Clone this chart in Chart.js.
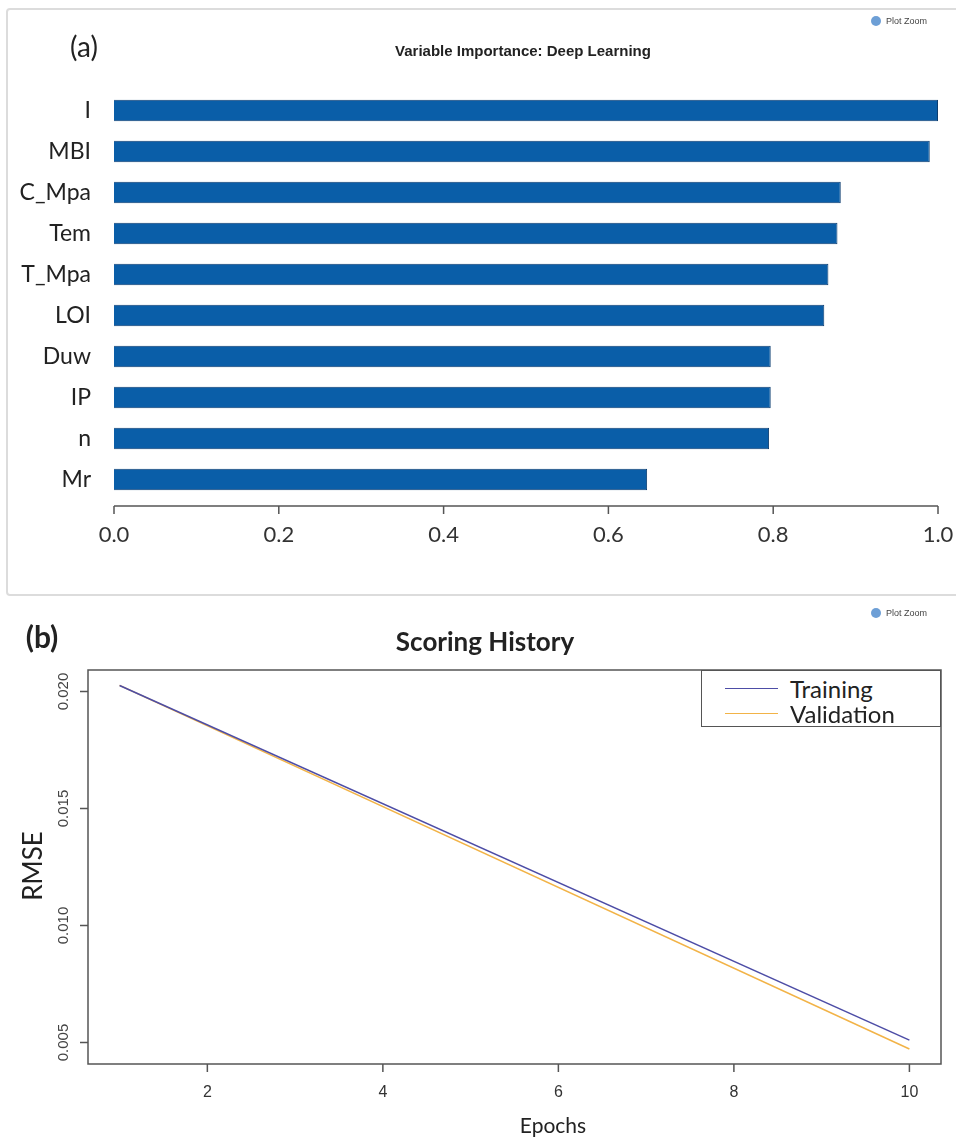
<!DOCTYPE html>
<html><head><meta charset="utf-8">
<script src="https://cdn.jsdelivr.net/npm/chart.js@4.4.0/dist/chart.umd.min.js"></script>
<style>
html,body{margin:0;padding:0;background:#fff;}
body{width:956px;height:1138px;overflow:hidden;position:relative;font-family:Lato,"Open Sans",sans-serif;}
.t{position:absolute;white-space:nowrap;line-height:1;transform:translate(-50%,-50%);color:#222;}
#panelA{position:absolute;left:6px;top:8px;width:980px;height:588px;border:2px solid #dcdcdc;border-radius:4px;box-sizing:border-box;}
canvas{position:absolute;left:0;}
#cA{top:0;}
#cB{top:600px;}
.pz{position:absolute;font:9px "Liberation Sans",Arial,sans-serif;color:#444;line-height:12px;white-space:nowrap;}
.pz i{display:inline-block;width:10px;height:10px;border-radius:50%;background:#6d9fd6;vertical-align:-2px;margin-right:5px;}
#legB{position:absolute;left:701px;top:670px;width:240px;height:57px;border:1.5px solid #555;box-sizing:border-box;background:#fff;}
.lg{position:absolute;left:0;width:240px;height:25px;}
.lg span.l{position:absolute;left:23px;top:12px;width:53px;height:0;border-top:1.5px solid;}
.lg span.x{position:absolute;left:88px;top:0;font:24px Lato,sans-serif;line-height:25px;color:#222;}
</style></head>
<body>
<div id="panelA"></div>
<canvas id="cA" width="956" height="600"></canvas>
<canvas id="cB" width="956" height="538"></canvas>
<div class="t" style="left:84px;top:46px;font-size:28px;">(a)</div>
<div class="t" style="left:523px;top:50px;font:bold 15px 'Liberation Sans',Arial,sans-serif;">Variable Importance: Deep Learning</div>
<div class="pz" style="left:871px;top:15px;"><i></i>Plot Zoom</div>
<div class="pz" style="left:871px;top:607px;"><i></i>Plot Zoom</div>
<div class="t" style="left:42px;top:636px;font-size:30px;font-weight:bold;">(b)</div>
<div class="t" style="left:485px;top:641px;font-size:26px;font-weight:bold;">Scoring History</div>
<div class="t" style="left:553px;top:1124px;font-size:21px;">Epochs</div>
<div class="t" style="left:32px;top:866px;font-size:26px;transform:translate(-50%,-50%) rotate(-90deg);">RMSE</div>
<div id="legB"></div>
<script>
// ---- Panel (a): variable importance ----
const categories = ['I','MBI','C_Mpa','Tem','T_Mpa','LOI','Duw','IP','n','Mr'];
const importance = [1.000,0.990,0.882,0.878,0.867,0.862,0.797,0.797,0.795,0.647];
const importanceTicks = [0.0,0.2,0.4,0.6,0.8,1.0];

// ---- Panel (b): scoring history ----
const epochs = [1,10];
const trainingRmse = [0.02026,0.00510];
const validationRmse = [0.02026,0.00472];
const epochTicks = [2,4,6,8,10];
const rmseTicks = [0.005,0.010,0.015,0.020];
const seriesNames = ['Training','Validation'];
const seriesColors = ['#4d4da6','#f2b347'];

const noPad = s => { s.paddingLeft = 0; s.paddingRight = 0; s.paddingTop = 0; s.paddingBottom = 0; };

const axisA = {
  id:'axisA',
  afterDraw(chart){
    const ctx = chart.ctx, sx = chart.scales.x;
    const y0 = 506;
    ctx.save();
    ctx.strokeStyle = '#555'; ctx.lineWidth = 1.5;
    ctx.beginPath();
    ctx.moveTo(sx.getPixelForValue(importanceTicks[0]), y0);
    ctx.lineTo(sx.getPixelForValue(importanceTicks[importanceTicks.length-1]), y0);
    importanceTicks.forEach(v=>{
      const px = sx.getPixelForValue(v);
      ctx.moveTo(px, y0); ctx.lineTo(px, y0+8);
    });
    ctx.stroke();
    ctx.restore();
  }
};

new Chart(document.getElementById('cA'), {
  type:'bar',
  data:{labels:categories, datasets:[{data:importance, backgroundColor:'#0a5ea8', borderColor:'#0c3d70', borderWidth:1, barPercentage:0.52, categoryPercentage:1}]},
  options:{
    indexAxis:'y', responsive:false, animation:false,
    layout:{padding:{left:0,top:90,right:18,bottom:0}},
    plugins:{legend:{display:false}, tooltip:{enabled:false}},
    scales:{
      x:{type:'linear', min:0, max:1,
        afterBuildTicks:s=>{s.ticks = importanceTicks.map(v=>({value:v}));},
        afterFit:s=>{s.height = 100; noPad(s);},
        grid:{display:false, drawTicks:false}, border:{display:false},
        ticks:{padding:22, font:{family:'Lato', size:22}, color:'#333', maxRotation:0, autoSkip:false,
          callback:v=>Number(v).toFixed(1)}},
      y:{afterFit:s=>{s.width = 114; noPad(s);},
        grid:{display:false, drawTicks:false}, border:{display:false},
        ticks:{padding:23, font:{family:'Lato', size:23}, color:'#222', autoSkip:false}}
    }
  },
  plugins:[axisA]
});

const axisB = {
  id:'axisB',
  afterDraw(chart){
    const ctx = chart.ctx, a = chart.chartArea, sx = chart.scales.x, sy = chart.scales.y;
    ctx.save();
    ctx.strokeStyle = '#555'; ctx.lineWidth = 1.5;
    ctx.strokeRect(a.left, a.top, a.right-a.left, a.bottom-a.top);
    ctx.beginPath();
    epochTicks.forEach(v=>{const px = sx.getPixelForValue(v); ctx.moveTo(px,a.bottom); ctx.lineTo(px,a.bottom+8);});
    rmseTicks.forEach(v=>{const py = sy.getPixelForValue(v); ctx.moveTo(a.left,py); ctx.lineTo(a.left-8,py);});
    ctx.stroke();
    ctx.fillStyle = '#444';
    ctx.font = '15px "Liberation Sans", Arial, sans-serif';
    ctx.textAlign = 'center'; ctx.textBaseline = 'alphabetic';
    rmseTicks.forEach(v=>{
      const py = sy.getPixelForValue(v);
      ctx.save(); ctx.translate(a.left-20, py); ctx.rotate(-Math.PI/2);
      ctx.fillText(v.toFixed(3), 0, 0); ctx.restore();
    });
    ctx.restore();
  }
};

const seriesData = [trainingRmse, validationRmse];
new Chart(document.getElementById('cB'), {
  type:'line',
  data:{datasets: seriesNames.map((n,k)=>({
    label:n, data:epochs.map((e,i)=>({x:e, y:seriesData[k][i]})),
    borderColor:seriesColors[k], borderWidth:1.5, pointRadius:0, fill:false, tension:0
  }))},
  options:{
    responsive:false, animation:false,
    layout:{padding:{left:0,top:70,right:15,bottom:0}},
    plugins:{legend:{display:false}, tooltip:{enabled:false}},
    scales:{
      x:{type:'linear', min:0.64, max:10.36,
        afterBuildTicks:s=>{s.ticks = epochTicks.map(v=>({value:v}));},
        afterFit:s=>{s.height = 74; noPad(s);},
        grid:{display:false, drawTicks:false}, border:{display:false},
        ticks:{padding:19, font:{family:'Liberation Sans', size:16}, color:'#333', maxRotation:0, autoSkip:false}},
      y:{type:'linear', min:0.00408, max:0.02092,
        afterBuildTicks:s=>{s.ticks = rmseTicks.map(v=>({value:v}));},
        afterFit:s=>{s.width = 88; noPad(s);},
        grid:{display:false, drawTicks:false}, border:{display:false},
        ticks:{display:false}}
    }
  },
  plugins:[axisB]
});

// legend (b)
const leg = document.getElementById('legB');
seriesNames.forEach((n,k)=>{
  const row = document.createElement('div');
  row.className = 'lg'; row.style.top = (5 + k*25) + 'px';
  row.innerHTML = '<span class="l" style="border-color:'+seriesColors[k]+'"></span><span class="x">'+n+'</span>';
  leg.appendChild(row);
});
</script>
</body></html>
